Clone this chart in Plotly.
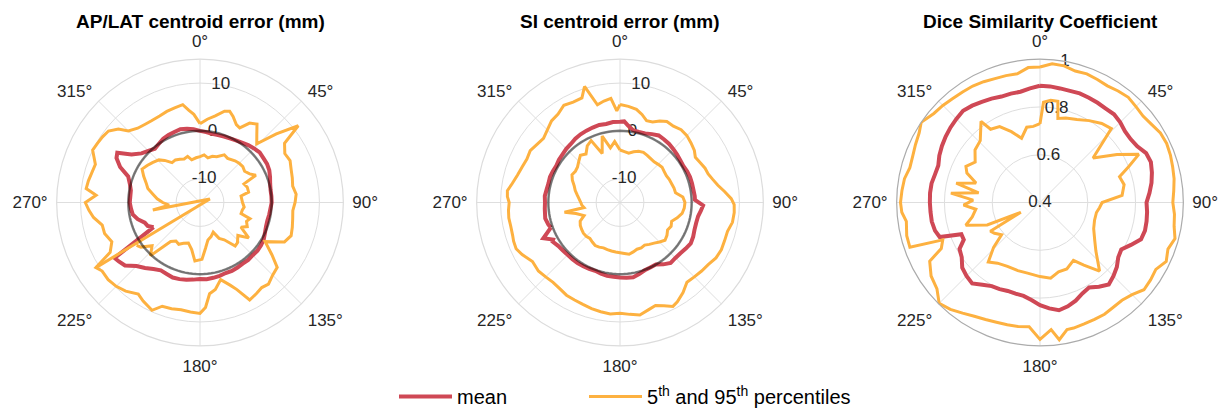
import plotly.graph_objects as go

# ---------------- data (angles in degrees, clockwise from top) ----------------
TITLES = ["AP/LAT centroid error (mm)", "SI centroid error (mm)", "Dice Similarity Coefficient"]
ANGLE_TICKS = [0, 45, 90, 135, 180, 225, 270, 315]
ANGLE_TEXT = ["0°", "45°", "90°", "135°", "180°", "225°", "270°", "315°"]

# Panel 1: AP/LAT centroid error
AP_MEAN_T = [242, 246, 250, 255, 260, 265, 270, 280, 285, 290, 294, 298, 301, 305, 310, 315, 320, 325, 330, 335, 340, 345, 350, 355,
             0, 5, 10, 15, 20, 25, 30, 35, 40, 45, 50, 55, 60, 65, 70, 75, 80, 85, 90, 95, 100, 105, 110, 115, 120, 125, 130, 135,
             140, 145, 150, 155, 160, 165, 170, 175, 180, 185, 190, 195, 200, 205, 210, 215, 220, 225, 230, 234, 237, 242]
AP_MEAN_R = [-4.0, -3.0, -2.7, -1.5, -0.7, -0.5, -0.3, -0.3, 0.2, 1.0, 3.3, 4.8, 5.2, 2.5, 1.0, 0.3, -0.3, 0.0, 0.4, 0.6, 0.7, 0.9, 0.7, 0.4,
             0.0, -0.2, -0.4, -0.4, -0.3, -0.2, 0.0, 0.3, 0.7, 1.0, 1.3, 1.2, 1.2, 1.0, 0.6, 0.2, 0.0, 0.0, 0.0, -0.2, -0.3, -0.4, -0.3, 0.0, 0.4, 0.6, 0.7, 0.6,
             0.7, 0.6, 0.7, 0.8, 0.7, 0.9, 1.0, 1.1, 1.0, 1.2, 1.4, 1.6, 1.7, 1.5, 1.4, 2.0, 2.9, 3.8, 5.5, 6.0, 6.3, -4.0]
AP_P95_T = [0, 5, 10, 15, 18, 21, 25, 28, 32, 36, 40, 44, 48, 52, 55, 60, 65, 70, 75, 80, 85, 90, 95, 100, 105, 110, 115, 121, 126, 130,
            135, 140, 144, 148, 153, 157, 160, 165, 170, 174, 177, 180, 185, 190, 195, 200, 204, 210, 214, 220, 225, 230, 235, 238,
            241, 246, 252, 257, 262, 266, 270, 274, 277, 281, 285, 290, 296, 300, 304, 308, 312, 315, 320, 325, 329, 335, 340, 345, 350,
            353, 356, 360]
AP_P95_R = [1.5, 2.5, 3.4, 4.8, 5.1, 4.3, 3.0, 2.7, 4.6, 5.3, 3.5, 2.1, 6.5, 11.1, 6.6, 5.5, 5.8, 5.3, 5.0, 4.7, 5.2, 4.9, 4.5, 4.7, 5.0, 5.3, 4.5, 0.9, 3.6, 6.1,
            6.5, 7.3, 7.0, 7.4, 7.9, 4.8, 3.4, 1.7, 3.5, 4.2, 7.0, 8.2, 8.0, 7.8, 8.0, 8.1, 9.7, 8.8, 8.1, 9.2, 9.8, 10.1, 10.0, 10.7,
            6.5, 5.2, 6.0, 6.0, 7.5, 8.3, 9.0, 6.8, 9.0, 8.8, 8.5, 8.3, 10.0, 9.8, 9.6, 9.3, 8.0, 6.2, 5.3, 5.0, 4.9, 5.0, 5.3, 5.5, 5.8,
            4.5, 3.5, 1.5]
AP_P5_T = [238, 70, 261, 265, 270, 275, 280, 285, 290, 295, 300, 305, 310, 316, 320, 325, 330, 335, 340, 345, 349, 355,
           0, 5, 10, 15, 20, 27, 32, 40, 45, 50, 55, 60, 64, 67, 72, 78, 81, 90, 96, 100, 105, 108, 112, 117, 121, 126, 131, 137,
           141, 147, 152, 156, 162, 168, 173, 178, 185, 190, 196, 202, 207, 212, 217, 223, 228, 233, 236]
AP_P5_R = [10.7, -12.8, -5.0, -8.5, -7.2, -6.0, -5.0, -3.7, -3.0, -2.0, -1.0, -1.5, -2.0, -2.6, -3.5, -4.8, -4.7, -5.0, -5.3, -5.0, -5.9, -5.6,
           -5.4, -5.0, -5.5, -5.0, -4.8, -3.8, -4.1, -3.6, -3.4, -3.3, -3.6, -3.0, -2.0, -5.0, -4.6, -4.6, -6.3, -6.1, -5.7, -6.0, -6.1, -4.0, -4.5, -3.9, -5.0, -2.4, -4.5, -3.5,
           -3.3, -5.7, -6.5, -8.2, -7.5, -7.0, -5.4, -3.1, -2.7, -5.0, -6.2, -5.8, -5.2, -5.5, -4.8, 0.2, -1.5, 0.5, 1.0]

# Panel 2: SI centroid error
SI_MEAN_T = [250, 253, 258, 265, 270, 275, 280, 285, 290, 295, 300, 305, 310, 315, 320, 325, 330, 335, 340, 345, 350, 355,
             0, 3, 6, 10, 15, 20, 25, 30, 35, 40, 45, 50, 55, 60, 65, 70, 75, 80, 85, 88, 92, 96, 100, 105, 110, 115, 120, 125,
             130, 135, 140, 145, 150, 155, 160, 165, 170, 175, 180, 185, 190, 195, 200, 205, 210, 215, 220, 225, 230, 235, 240, 241, 245, 250]
SI_MEAN_R = [0.4, 0.7, 1.0, 0.8, 0.7, 0.8, 0.6, 0.5, 0.6, 0.5, 0.4, 0.6, 0.7, 0.9, 1.0, 1.3, 1.5, 1.6, 1.7, 1.8, 1.7, 1.9,
             1.9, 2.0, 1.2, 0.4, 0.3, 0.4, 0.8, 1.2, 1.1, 1.0, 0.8, 0.6, 0.4, 0.3, 0.5, 0.6, 0.6, 0.6, 0.7, 0.7, 2.4, 2.0, 1.6, 1.5, 1.6, 1.9, 2.1, 1.8,
             1.5, 1.4, 1.5, 0.8, 0.0, 0.0, 0.1, 0.5, 0.9, 0.8, 0.7, 0.6, 0.6, 0.4, 0.2, 0.3, 0.4, 0.5, 0.5, 0.5, 0.6, 0.8, 1.3, 1.0, 2.7, 0.4]
SI_P95_T = [0, 5, 10, 14, 18, 22, 26, 30, 35, 40, 45, 50, 55, 59, 64, 68, 72, 76, 80, 84, 88, 91, 95, 100, 105, 110, 115, 120, 125,
            130, 135, 140, 145, 150, 153, 157, 161, 165, 170, 175, 180, 185, 190, 195, 200, 205, 210, 215, 220, 225, 230, 236, 242,
            246, 250, 253, 258, 262, 266, 270, 273, 276, 280, 285, 290, 295, 300, 305, 310, 315, 320, 325, 330, 335, 340, 343, 347,
            351, 355, 358, 360]
SI_P95_R = [5.5, 5.2, 4.8, 4.0, 3.0, 3.2, 4.0, 4.6, 4.5, 4.9, 4.8, 4.4, 4.0, 3.4, 3.8, 4.2, 4.4, 5.0, 5.8, 7.0, 8.3, 8.9, 9.0, 8.9, 8.3, 8.3, 8.4, 8.2, 7.6,
            7.3, 7.0, 6.8, 8.0, 9.0, 9.4, 8.5, 7.8, 8.2, 8.9, 8.5, 8.2, 8.4, 8.2, 8.0, 7.7, 7.5, 7.4, 7.0, 6.8, 7.0, 7.3, 7.1, 8.2,
            8.8, 8.7, 8.5, 8.4, 8.5, 8.4, 8.2, 8.6, 8.7, 7.9, 7.2, 6.8, 6.5, 6.7, 6.2, 5.9, 6.5, 7.3, 7.6, 8.5, 8.2, 8.3, 10.4, 6.0,
            6.5, 6.9, 4.2, 5.5]
SI_P5_T = [0, 5, 10, 15, 20, 25, 30, 35, 40, 45, 50, 55, 60, 65, 70, 75, 80, 85, 90, 95, 100, 105, 110, 115, 120, 125, 130, 135,
           140, 145, 150, 155, 160, 165, 170, 175, 180, 185, 190, 195, 200, 205, 210, 215, 220, 225, 230, 235, 240, 245, 250, 256,
           260, 262, 266, 270, 275, 280, 285, 290, 295, 300, 305, 310, 315, 320, 325, 330, 335, 340, 345, 350, 355, 360]
SI_P5_R = [-4.0, -4.3, -4.5, -4.0, -3.6, -3.4, -3.6, -3.8, -3.9, -3.7, -3.5, -3.7, -3.8, -3.6, -3.5, -3.3, -3.2, -1.8, -1.4, -1.5, -1.8, -2.6, -3.5, -3.2, -3.5, -3.0, -2.7, -3.3,
           -3.9, -4.3, -4.7, -4.5, -4.6, -4.3, -4.0, -4.3, -4.5, -4.6, -4.7, -4.8, -4.9, -4.7, -4.6, -4.9, -5.2, -5.0, -5.0, -5.2, -5.4, -5.8, -7.0, -5.5,
           -3.2, -7.4, -7.0, -6.8, -6.4, -5.9, -5.3, -4.8, -4.0, -3.4, -3.6, -3.4, -2.8, -2.1, -2.6, -1.3, -0.7, -4.1, -0.6, -3.4, -2.2, -4.0]

# Panel 3: Dice similarity coefficient
DSC_MEAN_T = [0, 5, 10, 15, 20, 25, 30, 35, 40, 45, 50, 55, 60, 65, 70, 75, 80, 85, 90, 95, 100, 105, 110, 115, 120, 125, 130, 135,
              140, 145, 150, 155, 160, 165, 170, 175, 180, 185, 190, 195, 200, 205, 210, 215, 220, 225, 230, 235, 240, 244, 248, 251,
              255, 260, 265, 270, 275, 280, 285, 290, 295, 300, 305, 310, 315, 320, 325, 330, 335, 340, 345, 350, 355, 360]
DSC_MEAN_R = [0.889, 0.888, 0.885, 0.884, 0.886, 0.884, 0.882, 0.880, 0.882, 0.875, 0.864, 0.863, 0.870, 0.890, 0.894, 0.885, 0.874, 0.860,
              0.846, 0.850, 0.853, 0.855, 0.850, 0.820, 0.793, 0.800, 0.820, 0.835, 0.848, 0.830, 0.811, 0.820, 0.837, 0.850, 0.858, 0.845,
              0.830, 0.810, 0.797, 0.795, 0.794, 0.800, 0.804, 0.820, 0.842, 0.835, 0.825, 0.800, 0.789, 0.755, 0.755, 0.844, 0.855, 0.860,
              0.860, 0.861, 0.862, 0.861, 0.855, 0.853, 0.865, 0.874, 0.882, 0.889, 0.895, 0.901, 0.895, 0.887, 0.880, 0.872, 0.872, 0.871,
              0.880, 0.889]
DSC_P95_T = [0, 5, 10, 15, 20, 25, 30, 35, 40, 45, 50, 55, 60, 65, 70, 75, 80, 85, 90, 95, 100, 105, 110, 115, 120, 125, 130, 135,
             140, 145, 150, 155, 160, 165, 168, 172, 175, 180, 185, 190, 195, 200, 205, 210, 215, 220, 225, 230, 236, 242, 245, 249,
             251, 256, 262, 266, 270, 275, 280, 285, 290, 295, 300, 304, 310, 315, 320, 325, 330, 335, 340, 345, 350, 355, 360]
DSC_P95_R = [0.967, 0.983, 0.981, 0.970, 0.973, 0.968, 0.964, 0.970, 0.975, 0.968, 0.963, 0.970, 0.982, 0.985, 0.981, 0.975, 0.970, 0.962,
             0.956, 0.965, 0.970, 0.985, 0.970, 0.983, 0.960, 0.965, 0.968, 0.945, 0.934, 0.935, 0.940, 0.940, 0.941, 0.944, 0.944, 0.980,
             0.934, 0.973, 0.922, 0.927, 0.930, 0.933, 0.940, 0.950, 0.965, 0.984, 0.997, 0.963, 0.950, 0.923, 0.856, 0.836, 0.976, 0.975,
             0.965, 0.980, 0.984, 0.980, 0.976, 0.964, 0.967, 0.975, 0.984, 1.000, 0.980, 0.975, 0.968, 0.965, 0.963, 0.958, 0.952, 0.950,
             0.947, 0.967, 0.967]
DSC_P5_T = [0, 2, 6, 10, 12, 17, 24, 31, 38, 44, 50, 58, 64, 68, 72, 78, 85, 90, 95, 100, 108, 116, 125, 131, 139, 145, 150, 158, 165,
            172, 180, 190, 198, 207, 215, 221, 226, 230, 236, 240, 243, 247, 253, 258, 264, 268, 272, 276, 279, 283, 287, 292, 296,
            302, 309, 316, 324, 326, 332, 338, 344, 350, 355, 360]
DSC_P5_R = [0.73, 0.82, 0.83, 0.83, 0.76, 0.77, 0.78, 0.80, 0.82, 0.83, 0.69, 0.78, 0.86, 0.80, 0.75, 0.76, 0.745, 0.66, 0.65, 0.64, 0.64,
            0.65, 0.68, 0.71, 0.78, 0.72, 0.68, 0.70, 0.70, 0.72, 0.71, 0.70, 0.70, 0.70, 0.71, 0.73, 0.67, 0.61, 0.63, 0.64, 0.49, 0.64,
            0.725, 0.69, 0.67, 0.72, 0.68, 0.775, 0.66, 0.76, 0.68, 0.73, 0.745, 0.72, 0.75, 0.76, 0.82, 0.77, 0.76, 0.72, 0.68, 0.72, 0.72, 0.73]

# radial axes
AP_RANGE = [-15, 15]
SI_RANGE = [-15, 15]
DSC_RANGE = [0.4, 1.0]
ERR_TICKS = [-10, 0, 10]
DSC_TICKS = [0.4, 0.6, 0.8, 1.0]
DSC_TICKTEXT = ["0.4", "0.6", "0.8", "1"]
ZERO_REF = 0  # reference circle for centroid error
REF_THETA = list(range(0, 361, 3))
LABEL_ANGLE = 10  # angle at which the radial tick labels sit

RED = "#CF4855"
ORANGE = "#FDB140"
TXT = "#262626"
FONT = "Liberation Sans, Arial, sans-serif"

W, H = 1226, 416
CX = [200, 620, 1040]
CY = 207
RAD = 146.5

fig = go.Figure()

panels = [
    ("polar", AP_RANGE, ERR_TICKS, [str(v) for v in ERR_TICKS], (AP_MEAN_T, AP_MEAN_R), (AP_P95_T, AP_P95_R), (AP_P5_T, AP_P5_R), True),
    ("polar2", SI_RANGE, ERR_TICKS, [str(v) for v in ERR_TICKS], (SI_MEAN_T, SI_MEAN_R), (SI_P95_T, SI_P95_R), (SI_P5_T, SI_P5_R), True),
    ("polar3", DSC_RANGE, DSC_TICKS, DSC_TICKTEXT, (DSC_MEAN_T, DSC_MEAN_R), (DSC_P95_T, DSC_P95_R), (DSC_P5_T, DSC_P5_R), False),
]

for i, (sp, rng, tv, tt, mean, p95, p5, zero) in enumerate(panels):
    # radial tick labels (drawn under the data)
    fig.add_trace(go.Scatterpolar(theta=[LABEL_ANGLE] * len(tv), r=tv, text=tt, mode="text",
                                  textfont=dict(size=17, color=TXT, family=FONT), textposition="middle center",
                                  showlegend=False, hoverinfo="skip", subplot=sp, cliponaxis=False))
    fig.add_trace(go.Scatterpolar(theta=mean[0], r=mean[1], mode="lines", name="mean",
                                  line=dict(color=RED, width=4), legendgroup="mean", showlegend=(i == 0),
                                  legend="legend", subplot=sp))
    fig.add_trace(go.Scatterpolar(theta=p95[0], r=p95[1], mode="lines", name="5<sup>th</sup> and 95<sup>th</sup> percentiles",
                                  line=dict(color=ORANGE, width=3), legendgroup="pct", showlegend=(i == 0),
                                  legend="legend2", subplot=sp))
    fig.add_trace(go.Scatterpolar(theta=p5[0], r=p5[1], mode="lines", name="5th and 95th percentiles",
                                  line=dict(color=ORANGE, width=3), legendgroup="pct", showlegend=False,
                                  legend="legend2", subplot=sp))
    if zero:
        fig.add_trace(go.Scatterpolar(theta=REF_THETA, r=[ZERO_REF] * len(REF_THETA), mode="lines",
                                      line=dict(color="rgba(0,0,0,0.5)", width=2.5), showlegend=False,
                                      hoverinfo="skip", subplot=sp))

def polar_layout(k, rng, tv, outer):
    cx = CX[k]
    return dict(
        domain=dict(x=[(cx - RAD) / W, (cx + RAD) / W], y=[(H - CY - RAD) / H, (H - CY + RAD) / H]),
        bgcolor="white",
        angularaxis=dict(rotation=90, direction="clockwise", tickvals=ANGLE_TICKS, ticktext=ANGLE_TEXT,
                         tickfont=dict(size=17, color=TXT, family=FONT), ticks="outside", ticklen=5,
                         tickcolor="rgba(0,0,0,0)",
                         showline=True, linecolor=outer, linewidth=1.2,
                         gridcolor="#dedede", gridwidth=1),
        radialaxis=dict(range=rng, tickvals=tv, showticklabels=False, ticks="", showline=False,
                        gridcolor="#dedede", gridwidth=1, angle=90),
    )

leg_common = dict(orientation="h", y=0.025, yanchor="middle", xanchor="left",
                  font=dict(size=20, color="black", family=FONT), itemwidth=53,
                  bgcolor="rgba(0,0,0,0)", borderwidth=0)

fig.update_layout(
    width=W, height=H,
    margin=dict(l=0, r=0, t=0, b=0),
    paper_bgcolor="white",
    plot_bgcolor="white",
    font=dict(family=FONT, color=TXT),
    polar=polar_layout(0, AP_RANGE, ERR_TICKS, "#dcdcdc"),
    polar2=polar_layout(1, SI_RANGE, ERR_TICKS, "#dcdcdc"),
    polar3=polar_layout(2, DSC_RANGE, DSC_TICKS, "#ababab"),
    legend=dict(x=394 / W, **leg_common),
    legend2=dict(x=584 / W, **leg_common),
    showlegend=True,
)

for k, t in enumerate(TITLES):
    fig.add_annotation(text="<b>" + t + "</b>", x=CX[k] / W, y=1 - 22 / H, xref="paper", yref="paper",
                       xanchor="center", yanchor="middle", showarrow=False,
                       font=dict(size=19, color="black", family=FONT))

fig.write_html("out.html", config={"displayModeBar": False},
               post_script="document.body.style.margin='0';document.body.style.overflow='hidden';")
